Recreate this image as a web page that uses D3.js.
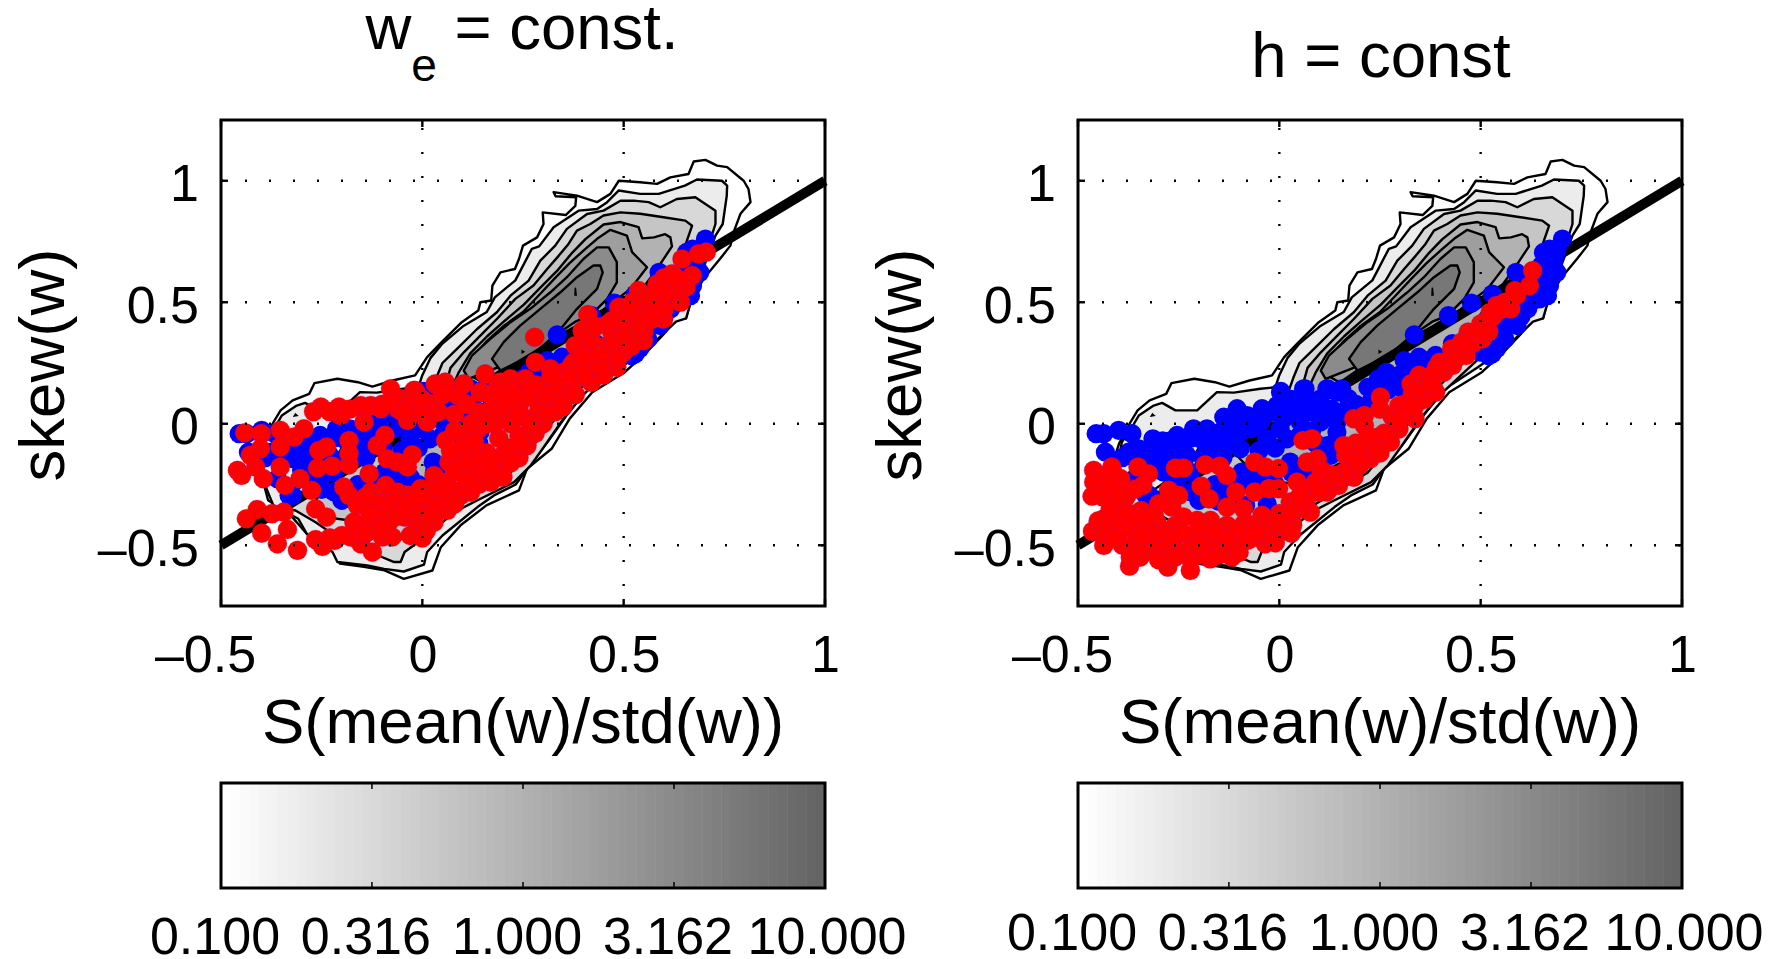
<!DOCTYPE html>
<html>
<head>
<meta charset="utf-8">
<title>skew(w)</title>
<script src="https://cdnjs.cloudflare.com/ajax/libs/d3/7.8.5/d3.min.js"></script>
<style>
	html, body { margin: 0; padding: 0; background: #fff; }
	svg { display: block; }
	text { font-family: "Liberation Sans", Arial, sans-serif; fill: #000; }
</style>
</head>
<body>
<svg id="chart" width="1777" height="959"></svg>
<script>
let xTicks = [-0.5, 0, 0.5, 1];
let yTicks = [-0.5, 0, 0.5, 1];
let barTicks = [0.1, 0.316, 1, 3.162, 10];
let barLabels = ["0.100", "0.316", "1.000", "3.162", "10.000"];
let levels = [0.1, 0.178, 0.316, 0.562, 1, 1.78, 3.16, 5.62];
let refLine = [[-0.5, -0.5], [1, 1]];

let contourA = [[.326,.953],[.331,.936],[.382,.932],[.380,.897],[.356,.859],[.299,.870],[.301,.822],[.285,.767],[.250,.733],[.240,.678],[.230,.637],[.194,.623],[.174,.568],[.171,.507],[.144,.500],[.139,.466],[.098,.418],[.048,.336],[.012,.274],[-.018,.199],[-.074,.178],[-.124,.153],[-.160,.171],[-.211,.185],[-.268,.167],[-.281,.123],[-.322,.096],[-.352,.055],[-.372,0],[-.398,-.082],[-.413,-.158],[-.393,-.253],[-.383,-.315],[-.327,-.377],[-.276,-.473],[-.226,-.514],[-.205,-.575],[-.145,-.589],[-.094,-.603],[-.046,-.638],[.025,-.604],[.046,-.508],[.095,-.418],[.159,-.336],[.240,-.274],[.260,-.185],[.321,-.103],[.366,.021],[.422,.130],[.503,.212],[.56,.30],[.60,.37],[.63,.43],[.655,.434],[.665,.50],[.70,.60],[.74,.68],[.765,.733],[.773,.788],[.790,.864],[.815,.912],[.810,.966],[.798,1.0],[.757,1.056],[.732,1.062],[.703,1.086],[.674,1.079],[.661,1.028],[.616,1.014],[.583,.987],[.541,.994],[.488,1.0],[.467,.946],[.434,.912],[.384,.939]];
let contourB = [[.757,.98],[.744,1.0],[.682,1.005],[.652,.98],[.587,.946],[.541,.946],[.488,.96],[.459,.912],[.434,.884],[.388,.877],[.326,.809],[.29,.73],[.272,.72],[.231,.59],[.18,.52],[.16,.46],[.10,.40],[.05,.33],[.02,.27],[0,.2],[-.01,.15],[-.047,.144],[-.113,.128],[-.155,.13],[-.204,.055],[-.258,.055],[-.291,.086],[-.312,.075],[-.349,.034],[-.366,-.014],[-.391,-.075],[-.399,-.144],[-.387,-.267],[-.37,-.336],[-.308,-.391],[-.287,-.453],[-.223,-.528],[-.211,-.569],[-.137,-.583],[-.095,-.597],[-.046,-.608],[.004,-.58],[.012,-.528],[.05,-.46],[.137,-.343],[.178,-.295],[.232,-.25],[.275,-.151],[.311,-.075],[.361,.041],[.412,.144],[.493,.233],[.56,.31],[.63,.42],[.655,.434],[.665,.49],[.70,.65],[.728,.774],[.746,.822],[.756,.938]];
let contourC = [[.728,.822],[.728,.877],[.678,.932],[.632,.925],[.591,.891],[.562,.912],[.525,.918],[.492,.918],[.45,.877],[.409,.863],[.359,.802],[.33,.733],[.293,.671],[.264,.589],[.219,.527],[.185,.459],[.136,.39],[.086,.308],[.05,.25],[.035,.19],[.02,.12],[-.02,.04],[-.12,0],[-.19,-.07],[-.221,-.158],[-.25,-.2],[-.31,-.27],[-.335,-.35],[-.315,-.357],[-.265,-.405],[-.2,-.48],[-.12,-.535],[-.07,-.569],[-.054,-.569],[-.044,-.528],[.012,-.46],[.079,-.364],[.137,-.315],[.228,-.24],[.27,-.17],[.30,-.10],[.35,.02],[.40,.12],[.49,.26],[.56,.38],[.62,.50],[.68,.62],[.71,.73]];
let contourD = [[.67,.815],[.653,.836],[.599,.85],[.541,.864],[.492,.87],[.45,.857],[.417,.822],[.384,.795],[.363,.74],[.339,.692],[.31,.637],[.276,.569],[.231,.514],[.185,.431],[.144,.363],[.103,.294],[.07,.23],[.06,.17],[.03,.08],[-.02,.02],[-.12,-.03],[-.19,-.12],[-.24,-.25],[-.27,-.33],[-.26,-.38],[-.17,-.40],[-.11,-.44],[-.06,-.48],[-.02,-.45],[.05,-.37],[.12,-.30],[.22,-.20],[.28,-.08],[.34,.04],[.40,.16],[.48,.30],[.55,.44],[.62,.60],[.65,.72]];
let contourE = [[.62,.73],[.616,.767],[.603,.78],[.575,.767],[.546,.763],[.537,.809],[.492,.83],[.45,.82],[.405,.76],[.37,.70],[.335,.63],[.293,.56],[.252,.49],[.202,.42],[.161,.36],[.119,.29],[.09,.21],[.06,.10],[.02,0],[-.06,-.05],[-.1,-.14],[-.05,-.23],[.05,-.25],[.13,-.18],[.2,-.12],[.25,-.05],[.31,.07],[.38,.2],[.46,.36],[.53,.52],[.58,.63]];
let contourF = [[.558,.644],[.521,.706],[.508,.774],[.467,.798],[.434,.761],[.405,.72],[.365,.66],[.33,.60],[.29,.53],[.25,.46],[.20,.40],[.16,.34],[.125,.27],[.118,.20],[.15,.17],[.22,.25],[.30,.33],[.38,.40],[.45,.47],[.517,.555]];
let contourG = [[.463,.726],[.483,.665],[.483,.582],[.459,.514],[.417,.445],[.38,.42],[.3,.33],[.2,.24],[.115,.185],[.103,.219],[.123,.28],[.169,.349],[.219,.418],[.268,.473],[.318,.541],[.359,.603],[.40,.678],[.434,.726]];
let contourH = [[.442,.651],[.448,.623],[.434,.555],[.384,.473],[.334,.37],[.27,.28],[.194,.219],[.173,.267],[.202,.336],[.243,.404],[.293,.473],[.343,.541],[.384,.603],[.425,.651]];
let specks = [[[.38,.56],[.382,.53],[.379,.53]], [[.248,.30],[.252,.296],[.248,.292]], [[-.315,.04],[-.311,.034],[-.318,.032]]];

let blueDots = [[-.455,-.041],[-.436,-.041],[-.399,-.027],[-.366,-.041],[-.314,-.062],[-.432,-.117],[-.374,-.117],[-.349,-.103],[-.254,-.048],[-.213,-.021],[-.18,-.021],[-.138,.027],[-.105,.062],[-.043,.062],[.004,.133],[.06,.144],[.118,.144],[.143,.13],[.172,.103],[-.08,.034],[-.006,.075],[.036,.062],[.094,.075],[.143,.007],[-.147,-.034],[-.097,-.034],[-.047,.007],[.002,-.021],[.052,.007],[.102,.007],[.143,-.034],[-.196,-.062],[-.254,-.096],[-.296,-.117],[-.32,-.144],[-.262,-.171],[-.287,-.199],[-.18,-.117],[-.138,-.103],[-.097,-.103],[-.031,-.062],[.019,-.062],[.027,-.158],[.127,-.13],[-.093,-.199],[-.105,-.24],[-.064,-.267],[-.138,-.281],[-.196,-.309],[-.254,-.226],[-.331,-.295],[-.36,-.226],[-.084,-.336],[-.2,-.315],[-.322,-.295],[.703,.76],[.656,.705],[.686,.699],[.689,.623],[.588,.623],[.529,.534],[.477,.496],[.42,.445],[.335,.366],[.646,.514],[.617,.473],[.57,.432],[.56,.349],[.529,.288],[.499,.295],[.388,.281],[.347,.274],[.266,.212],[.246,.185],[.297,.199],[.155,.144],[.12,.144],[.064,.144],[.003,.13],[.671,.719],[.671,.568],[.666,.527],[.595,.514],[.59,.404],[.2,.03],[.22,.15],[.18,.05],[.45,.3],[.52,.42],[.3,.15],[-.27,-.07],[-.22,-.06],[-.17,-.07],[-.12,-.05],[-.12,.01],[-.07,-.02],[-.03,.04],[.01,.02],[.03,.1],[.08,.05],[.07,.1],[.1,.1],[.13,.06],[.16,.05],[.19,.08],[.23,.1],[.25,.13],[.28,.17],[.32,.22],[.37,.26],[.31,.26],[.27,.14],[.08,-.03],[.05,-.05],[.09,-.08],[.12,-.09],[.14,-.08],[-.01,-.1],[-.05,-.11],[-.14,-.14],[-.19,-.14],[-.24,-.13],[-.28,-.15],[-.3,-.19],[-.39,-.14],[-.36,-.14],[-.33,-.12],[-.29,-.07],[-.23,-.13],[-.22,-.2],[-.25,-.27],[-.22,-.28],[-.16,-.25],[-.12,-.25],[-.07,-.22],[-.03,-.22],[-.01,-.25],[.03,-.2],[.06,-.19],[-.15,-.32],[-.11,-.3],[-.03,-.33],[.68,.66],[.43,.33],[.47,.3],[.5,.33],[.55,.38],[.6,.44],[.62,.49],[.58,.42],[.63,.56],[.64,.6],[.65,.65],[.69,.72],[.68,.67],[.66,.6],[.52,.28],[.54,.31]];

let redLeft = [[-.441,-.037],[-.40,-.041],[-.353,-.027],[-.402,-.103],[-.353,-.096],[-.459,-.192],[-.449,-.213],[-.414,-.178],[-.395,-.226],[-.427,-.13],[-.353,-.178],[-.341,-.254],[-.304,-.226],[-.275,-.274],[-.26,-.182],[-.224,-.174],[-.182,-.169],[-.257,-.11],[-.238,-.096],[-.182,-.069],[-.182,-.123],[-.112,-.089],[-.093,-.048],[-.132,-.206],[-.087,-.144],[-.062,-.158],[-.037,-.178],[-.025,-.128],[.058,-.069],[-.195,-.261],[-.182,-.295],[-.265,-.35],[-.238,-.384],[-.41,-.353],[-.437,-.391],[-.373,-.37],[-.344,-.364],[-.335,-.435],[-.399,-.45],[-.36,-.494],[-.31,-.521],[-.265,-.477],[-.248,-.505],[-.218,-.48],[-.178,-.466],[-.153,-.494],[-.124,-.528],[-.17,-.405],[-.137,-.412],[-.099,-.466],[-.075,-.466],[-.161,-.336],[-.127,-.343],[-.128,-.281],[-.099,-.281],[-.091,-.254],[-.062,-.281],[-.033,-.295],[-.083,-.405],[-.044,-.384],[-.021,-.453],[-.012,-.418],[-.004,-.267],[.029,-.213],[.066,-.158],[.103,-.196],[.037,-.309],[.062,-.357],[.029,-.405],[.095,-.295],[.12,-.281],[.186,-.219],[.161,-.199],[.178,-.158],[.215,-.158],[.228,-.13],[.19,.02],[.211,.034],[.153,.034],[-.252,.069],[-.207,.069],[-.153,.075],[-.128,.075],[-.103,.062],[-.079,.144],[-.054,.103],[-.021,.137],[-.037,.014],[.012,.007],[-.145,.007],[-.203,.034],[-.294,-.021],[-.319,-.055],[.025,.082],[.046,.158],[.087,.117],[.137,.048],[.145,.13],[.194,.171],[.279,.356],[.411,.449],[.397,.383],[.417,.363],[.38,.322],[.488,.479],[.471,.425],[.537,.548],[.57,.486],[.583,.575],[.62,.617],[.645,.678],[.686,.699],[.705,.706],[.67,.61],[.655,.562],[.641,.5],[.599,.431],[.541,.486],[.508,.418],[.483,.232],[.549,.342],[.5,.294],[.475,.253],[.45,.226],[.434,.308],[.409,.185],[.368,.143],[.442,.253],[.281,.253],[.156,.205],[.219,.185],[.256,.185],[.318,.226],[.351,.212],[.376,.253],[.409,.294],[.459,.322],[.492,.363],[.533,.431],[.591,.514],[.624,.541],[.301,.157],[.334,.185],[.272,.109],[.235,.116],[-.017,.136],[.032,.164],[.057,.171],[.103,.164],[.144,.13],[.185,.143],[.31,.102],[.10,-.27],[.14,-.25],[.17,-.24],[.20,-.22],[.13,-.20],[.17,-.18],[.09,-.15],[.12,-.12],[.16,-.12],[.20,-.13],[.24,-.14],[.22,-.10],[.26,-.09],[.19,-.06],[.24,-.05],[.28,-.04],[.10,-.04],[.14,-.02],[.18,0],[.22,0],[.26,.02],[.30,0],[.33,.05],[.29,.06],[.24,.07],[.20,.09],[.17,.06],[.30,.12],[.34,.1],[.37,.13],[.33,.16],[.28,.16],[.38,.19],[.42,.17],[.45,.2],[.41,.23],[.37,.24],[.45,.27],[.49,.28],[.47,.31],[.43,.32],[.52,.32],[.55,.38],[.51,.38],[.47,.38],[.53,.45],[.57,.43],[.60,.47],[.62,.55],[-.27,.05],[-.23,.05],[-.18,.06],[-.1,.08],[-.06,.06],[-.02,.08],[0,.05],[.04,.05],[.08,.04],[.11,.08],[.05,.12],[0,.1],[-.05,.05],[-.08,.09],[.17,.12],[.21,.12],[.24,.03],[.12,0],[.08,-.03],[.16,0],[.06,-.24],[.08,-.2],[.1,-.1],[.07,-.11],[.13,-.08],[.15,-.15],[.11,-.17],[.06,-.3],[.03,-.27],[0,-.33],[-.02,-.36],[0,-.3],[.03,-.35],[.08,-.33],[.11,-.23],[.17,-.15],[.22,-.16],[.24,-.08],[.27,0],[.31,.04],[.35,.07],[.26,.11],[.23,.12],[.38,.12],[.4,.2],[.44,.24],[.36,.19],[.32,.2],[.4,.27],[.44,.29],[.48,.34],[.5,.36],[.54,.41],[.58,.49],[.6,.53],[.56,.52],[.52,.5],[.49,.43],[.46,.41],[.43,.4],[.6,.6],[.63,.6],[.58,.55],[-.07,-.33],[-.04,-.33],[-.01,-.3],[-.11,-.33],[-.14,-.3],[-.1,-.38],[-.06,-.38],[-.13,-.37],[-.16,-.45],[-.2,-.46],[-.14,-.45],[-.1,-.43],[-.03,-.46],[0,-.47],[.01,-.44],[.02,-.38],[-.23,-.47]];

let redRight = [[-.461,-.192],[-.449,-.213],[-.461,-.24],[-.416,-.178],[-.394,-.226],[-.465,-.298],[-.424,-.295],[-.351,-.178],[-.325,-.206],[-.339,-.254],[-.258,-.182],[-.238,-.182],[-.184,-.169],[-.148,-.174],[-.13,-.213],[-.061,-.158],[-.035,-.178],[-.002,-.185],[.059,-.069],[.081,-.062],[.069,-.158],[.094,-.144],[.106,-.192],[-.275,-.274],[-.25,-.295],[-.194,-.257],[-.174,-.309],[-.108,-.281],[-.061,-.281],[-.026,-.267],[-.002,-.267],[.044,-.24],[.06,-.267],[.118,-.281],[.147,-.254],[.185,-.219],[-.407,-.35],[-.436,-.391],[-.37,-.37],[-.343,-.357],[-.304,-.407],[-.267,-.343],[-.238,-.384],[-.464,-.443],[-.436,-.501],[-.399,-.446],[-.334,-.435],[-.358,-.494],[-.31,-.521],[-.346,-.549],[-.372,-.586],[-.277,-.59],[-.221,-.604],[-.262,-.473],[-.25,-.528],[-.217,-.48],[-.175,-.466],[-.172,-.556],[-.122,-.528],[-.118,-.549],[-.171,-.398],[-.13,-.343],[-.089,-.35],[-.085,-.405],[-.043,-.377],[-.13,-.418],[-.113,-.473],[-.072,-.473],[-.035,-.494],[-.018,-.453],[.011,-.418],[.031,-.405],[.065,-.343],[.077,-.364],[.027,-.322],[-.279,-.528],[-.204,-.398],[.629,.63],[.621,.568],[.585,.548],[.575,.473],[.539,.486],[.524,.459],[.509,.418],[.504,.349],[.469,.377],[.453,.336],[.464,.281],[.428,.308],[.398,.253],[.347,.199],[.327,.164],[.251,.11],[.185,.021],[.211,.034],[.211,-.007],[.367,.158],[.408,.212],[.388,.13],[.337,.075],[.297,.075],[.337,.021],[.297,-.021],[.246,-.055],[.276,-.075],[.226,-.089],[.195,-.116],[.165,-.13],[.226,-.144],[.185,-.219],[.145,-.226],[.124,-.267],[.084,-.281],[.054,-.349],[.033,-.418],[.003,-.445],[.104,-.199],[.165,-.199],[.25,.06],[.28,.03],[.31,.08],[.36,.1],[.33,.12],[.38,.2],[.42,.26],[.44,.3],[.48,.33],[.5,.41],[-.42,-.25],[-.38,-.3],[-.36,-.27],[-.41,-.4],[-.38,-.43],[-.31,-.46],[-.29,-.5],[-.23,-.53],[-.19,-.5],[-.15,-.5],[-.1,-.5],[-.07,-.42],[-.03,-.41],[0,-.37],[.03,-.36],[-.13,-.47],[-.2,-.43],[-.26,-.42],[-.39,-.5],[-.33,-.48],[-.3,-.33],[.12,-.24],[.16,-.2],[.2,-.17],[.24,-.11],[.26,-.04],[.22,-.05],[.19,-.08],[.16,-.09],[.25,-.12],[.29,.01],[.31,.04],[.33,.07],[.35,.14],[.38,.16],[.39,.23],[.43,.24],[.44,.27],[.46,.33],[.49,.38],[.52,.38],[.53,.44],[.56,.5],[.59,.53],[.55,.47],[.09,-.24],[.13,-.21],[.07,-.3],[.1,-.28],[.05,-.3],[0,-.41],[-.05,-.44],[-.08,-.48],[-.04,-.45],[-.01,-.49],[.03,-.45],[-.44,-.3],[-.42,-.35],[-.45,-.4],[-.4,-.3],[-.38,-.37],[-.35,-.4],[-.33,-.39],[-.31,-.38],[-.28,-.46],[-.27,-.5],[-.22,-.56],[-.26,-.55],[-.3,-.56],[-.35,-.52],[-.19,-.54],[-.15,-.54],[-.1,-.53],[-.2,-.5],[-.16,-.44],[-.1,-.43],[-.06,-.45],[-.43,-.45],[-.41,-.47],[-.37,-.55],[-.34,-.46],[-.24,-.45]];

let contours = [contourA, contourB, contourC, contourD, contourE, contourF, contourG, contourH];
let plotTop = 120, plotBottom = 606, plotWidth = 604;
let barTop = 783, barBottom = 888;

let svg = d3.select("#chart");
let logPos = d3.scaleLog().domain([0.1, 10]).range([0, 1]);
let gray = t => d3.rgb(255 - 155 * t, 255 - 155 * t, 255 - 155 * t).formatHex();

function drawPanel(left, redDots, barLabelY) {
	let x = d3.scaleLinear().domain([-0.5, 1]).range([left, left + plotWidth]);
	let y = d3.scaleLinear().domain([-0.75, 1.25]).range([plotBottom, plotTop]);
	let g = svg.append("g");
	let line = d3.line().x(d => x(d[0])).y(d => y(d[1]));
	let closed = d3.line().x(d => x(d[0])).y(d => y(d[1])).curve(d3.curveLinearClosed);

	g.append("g").selectAll("path").data(contours).join("path")
		.attr("d", closed)
		.attr("fill", (d, i) => gray(logPos(levels[i])))
		.attr("stroke", "#000")
		.attr("stroke-width", 2.4)
		.attr("stroke-linejoin", "round");
	g.append("g").selectAll("path").data(specks).join("path")
		.attr("d", closed)
		.attr("fill", "#000")
		.attr("stroke", "#000")
		.attr("stroke-width", 1.5);

	g.append("path").datum(refLine)
		.attr("d", line)
		.attr("stroke", "#000")
		.attr("stroke-width", 10)
		.attr("fill", "none");

	g.append("g").selectAll("circle").data(blueDots).join("circle")
		.attr("cx", d => x(d[0]))
		.attr("cy", d => y(d[1]))
		.attr("r", 9.6)
		.attr("fill", "#0000ff");
	g.append("g").selectAll("circle").data(redDots).join("circle")
		.attr("cx", d => x(d[0]))
		.attr("cy", d => y(d[1]))
		.attr("r", 9.6)
		.attr("fill", "#ff0000")
		.attr("stroke", "#a0108a")
		.attr("stroke-width", 0.25);

	// dotted grid sits on top of the marks
	let grid = g.append("g").attr("stroke", "#000").attr("stroke-width", 2.4).attr("stroke-dasharray", "2 22");
	xTicks.slice(1, 3).forEach(t => {
		grid.append("line").attr("x1", x(t)).attr("x2", x(t)).attr("y1", plotBottom).attr("y2", plotTop).attr("stroke-dashoffset", -20);
	});
	yTicks.forEach(t => {
		grid.append("line").attr("x1", left).attr("x2", left + plotWidth).attr("y1", y(t)).attr("y2", y(t));
	});

	let xAxis = g.append("g").attr("transform", "translate(0," + plotBottom + ")")
		.call(d3.axisBottom(x).tickValues(xTicks).tickSize(0).tickPadding(66)
			.tickFormat(d => d3.format(".1~f")(d).replace(/^[-\u2212]/, "\u2013")));
	xAxis.select(".domain").remove();
	xAxis.selectAll("text").attr("font-size", 52).attr("dy", 0)
		.attr("dx", d => d < 0 ? -16 : 0);

	let yAxis = g.append("g").attr("transform", "translate(" + left + ",0)")
		.call(d3.axisLeft(y).tickValues(yTicks).tickSize(0).tickPadding(22)
			.tickFormat(d => d3.format(".1~f")(d).replace(/^[-\u2212]/, "\u2013")));
	yAxis.select(".domain").remove();
	yAxis.selectAll("text").attr("font-size", 52).attr("dy", "0.38em");

	// inward tick marks on all four sides
	let ticks = g.append("g").attr("stroke", "#000").attr("stroke-width", 2.4);
	xTicks.forEach(t => {
		ticks.append("line").attr("x1", x(t)).attr("x2", x(t)).attr("y1", plotBottom).attr("y2", plotBottom - 7);
		ticks.append("line").attr("x1", x(t)).attr("x2", x(t)).attr("y1", plotTop).attr("y2", plotTop + 7);
	});
	yTicks.forEach(t => {
		ticks.append("line").attr("x1", left).attr("x2", left + 7).attr("y1", y(t)).attr("y2", y(t));
		ticks.append("line").attr("x1", left + plotWidth).attr("x2", left + plotWidth - 7).attr("y1", y(t)).attr("y2", y(t));
	});

	g.append("rect")
		.attr("x", left).attr("y", plotTop).attr("width", plotWidth).attr("height", plotBottom - plotTop)
		.attr("fill", "none").attr("stroke", "#000").attr("stroke-width", 3);

	g.append("text")
		.attr("x", left + 302).attr("y", 743)
		.attr("text-anchor", "middle").attr("font-size", 63.5)
		.text("S(mean(w)/std(w))");
	g.append("text")
		.attr("transform", "translate(" + (left - 157) + ",365) rotate(-90)")
		.attr("text-anchor", "middle").attr("font-size", 63.5)
		.text("skew(w)");

	// colorbar
	let barScale = d3.scaleLog().domain([0.1, 10]).range([left, left + plotWidth]);
	let cells = d3.range(64);
	g.append("g").selectAll("rect").data(cells).join("rect")
		.attr("x", d => left + d * plotWidth / 64)
		.attr("y", barTop)
		.attr("width", plotWidth / 64 + 0.5)
		.attr("height", barBottom - barTop)
		.attr("fill", d => gray(d / 63));
	let barMarks = g.append("g").attr("stroke", "#000").attr("stroke-width", 1.5);
	barTicks.slice(1, 4).forEach(t => {
		barMarks.append("line").attr("x1", barScale(t)).attr("x2", barScale(t)).attr("y1", barTop).attr("y2", barTop + 6);
		barMarks.append("line").attr("x1", barScale(t)).attr("x2", barScale(t)).attr("y1", barBottom).attr("y2", barBottom - 6);
	});
	g.append("rect")
		.attr("x", left).attr("y", barTop).attr("width", plotWidth).attr("height", barBottom - barTop)
		.attr("fill", "none").attr("stroke", "#000").attr("stroke-width", 3);
	g.append("g").selectAll("text").data(barTicks).join("text")
		.attr("x", d => barScale(d) + (d == 10 ? 2 : -6))
		.attr("y", barLabelY)
		.attr("text-anchor", "middle").attr("font-size", 52)
		.text((d, i) => barLabels[i]);
}

drawPanel(221, redLeft, 954);
drawPanel(1078, redRight, 950);

let leftTitle = svg.append("text").attr("x", 522).attr("y", 49).attr("text-anchor", "middle").attr("font-size", 63.5);
leftTitle.append("tspan").text("w");
leftTitle.append("tspan").attr("dy", 32).attr("font-size", 46).text("e");
leftTitle.append("tspan").attr("dy", -32).text(" = const.");

svg.append("text").attr("x", 1381).attr("y", 77).attr("text-anchor", "middle").attr("font-size", 63.5).text("h = const");
</script>
</body>
</html>
